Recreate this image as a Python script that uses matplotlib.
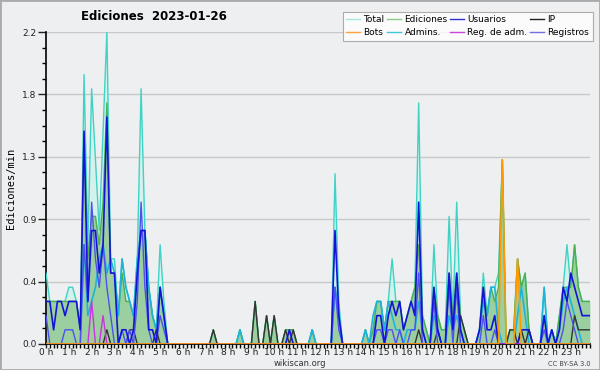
import numpy as np
import matplotlib
matplotlib.use("Agg")
import matplotlib.pyplot as plt
from matplotlib.lines import Line2D

# counts per 10-minute bin (edits / 10 min), 144 bins from 0:00 to 23:50
total = [5,3,3,3,3,3,4,4,3,1,19,7,
         18,13,8,15,22,6,6,2,6,4,3,2,
         6,18,8,4,2,1,7,3,0,0,0,0,
         0,0,0,0,0,0,0,0,1,0,0,0,
         0,0,0,1,0,0,0,3,0,0,2,0,
         2,0,0,1,1,1,0,0,0,0,1,0,
         0,0,0,0,12,3,0,0,0,0,0,0,
         1,0,1,3,3,1,3,6,3,3,1,2,
         3,4,17,2,1,0,7,2,1,1,9,2,
         10,2,1,0,0,0,1,5,2,4,4,5,
         13,0,1,1,6,4,5,1,0,0,0,4,
         0,1,0,2,4,7,4,7,4,3,3,3]
ediciones = [3,3,3,3,3,3,3,3,3,1,15,6,
             9,9,7,10,17,5,5,2,5,3,3,2,
             5,8,8,4,2,1,4,2,0,0,0,0,
             0,0,0,0,0,0,0,0,1,0,0,0,
             0,0,0,1,0,0,0,3,0,0,2,0,
             2,0,0,1,1,1,0,0,0,0,1,0,
             0,0,0,0,4,2,0,0,0,0,0,0,
             1,0,1,3,3,1,3,3,3,3,1,2,
             3,4,7,2,1,0,4,2,1,1,5,2,
             5,2,1,0,0,0,1,4,2,4,3,4,
             13,0,1,1,6,4,5,1,0,0,0,2,
             0,1,0,2,4,4,4,7,4,3,3,3]
usuarios = [3,3,1,3,3,2,3,3,3,1,15,3,
            8,8,5,7,16,5,5,0,1,1,0,1,
            5,8,8,1,1,0,4,2,0,0,0,0,
            0,0,0,0,0,0,0,0,0,0,0,0,
            0,0,0,0,0,0,0,0,0,0,0,0,
            0,0,0,0,1,0,0,0,0,0,0,0,
            0,0,0,0,8,2,0,0,0,0,0,0,
            0,0,0,2,2,0,2,3,2,3,1,2,
            3,2,10,1,0,0,4,1,0,0,5,1,
            5,1,0,0,0,0,1,4,1,1,2,0,
            0,0,0,0,0,1,1,1,0,0,0,2,
            0,1,0,1,4,3,5,4,3,2,2,2]
ip = [0,0,0,0,0,0,0,0,0,0,0,0,
      0,0,0,0,1,0,0,0,0,0,1,1,
      0,0,0,0,0,1,0,0,0,0,0,0,
      0,0,0,0,0,0,0,0,1,0,0,0,
      0,0,0,0,0,0,0,3,0,0,2,0,
      2,0,0,1,0,1,0,0,0,0,0,0,
      0,0,0,0,0,0,0,0,0,0,0,0,
      0,0,0,0,0,0,0,0,0,0,0,0,
      0,0,1,0,0,0,0,1,0,0,0,0,
      0,2,1,0,0,0,0,0,0,0,0,0,
      0,0,1,1,0,1,0,1,0,0,0,0,
      0,0,0,0,0,0,0,2,1,1,1,1]
bots = [0]*144
bots[120] = 13
bots[124] = 6
admins = [0,0,0,0,0,0,0,0,0,0,7,2,
          3,4,6,7,5,6,5,2,6,4,3,2,
          6,8,8,4,2,1,4,2,0,0,0,0,
          0,0,0,0,0,0,0,0,0,0,0,0,
          0,0,0,1,0,0,0,0,0,0,0,0,
          0,0,0,0,0,0,0,0,0,0,1,0,
          0,0,0,0,4,2,0,0,0,0,0,0,
          1,0,2,3,3,1,3,2,1,1,0,1,
          1,1,3,1,0,0,2,1,0,0,2,1,
          2,1,0,0,0,0,1,3,2,4,4,1,
          0,0,0,0,2,4,2,0,0,0,0,4,
          0,1,0,1,3,4,3,2,1,0,0,0]
reg_adm = [0]*144
reg_adm[12] = 3
reg_adm[15] = 2
registros = [2,0,0,0,0,1,1,1,0,0,7,3,
             10,6,4,7,4,2,0,0,1,0,1,0,
             3,10,4,1,0,0,2,1,0,0,0,0,
             0,0,0,0,0,0,0,0,0,0,0,0,
             0,0,0,0,0,0,0,0,0,0,0,0,
             0,0,0,0,0,0,0,0,0,0,0,0,
             0,0,0,0,4,1,0,0,0,0,0,0,
             0,0,0,1,1,0,1,1,0,1,0,0,
             1,1,5,0,0,0,3,0,0,0,4,0,
             4,0,0,0,0,0,0,2,0,0,1,0,
             0,0,0,0,0,0,0,0,0,0,0,1,
             0,0,0,0,1,3,2,1,0,0,0,0]

hours = np.arange(144) / 6.0
per_min = lambda s: np.array(s) / 10.0

bg = "#eeeff0"
fig = plt.figure(figsize=(6, 3.7), dpi=100, facecolor=bg)
ax = fig.add_axes([0.0767, 0.0703, 0.9063, 0.8432], facecolor=bg)

# filled areas
ax.fill_between(hours, 0, per_min(total), color="#d4f1ec", lw=0, zorder=1)
ax.fill_between(hours, 0, per_min(ediciones), color="#9ccf9f", lw=0, zorder=2)

# lines
ax.plot(hours, per_min(total), color="#3fd3c5", lw=1.0, zorder=3)
ax.plot(hours, per_min(ediciones), color="#4caf4c", lw=1.0, zorder=3)
ax.plot(hours, per_min(admins), color="#1fb3dc", lw=1.2, zorder=4)
ax.plot(hours, per_min(ip), color="#333333", lw=1.0, zorder=4)
ax.plot(hours, per_min(registros), color="#5050f0", lw=1.0, zorder=4)
ax.plot(hours, per_min(usuarios), color="#1414d8", lw=1.2, zorder=5)
ax.plot(hours, per_min(reg_adm), color="#cc33dd", lw=1.0, zorder=5)
ax.plot(hours, per_min(bots), color="#ff9a00", lw=1.2, zorder=6)

ax.set_xlim(0, 143 / 6.0)
ax.set_ylim(0, 2.2)

yt = np.linspace(0, 2.2, 6)
ax.set_yticks(yt)
ax.set_yticklabels(["%.1f" % v for v in yt])
ax.set_yticks(np.arange(0, 2.2001, 0.11), minor=True)
ax.set_xticks(np.arange(24))
ax.set_xticklabels(["%d h" % h for h in range(24)])
ax.set_xticks(np.arange(0, 143 / 6.0 + 0.001, 1 / 6.0), minor=True)

ax.tick_params(axis="both", which="major", labelsize=6.5, colors="#222222",
               direction="out", length=3, width=1, pad=0)
ax.tick_params(axis="both", which="minor", direction="out", length=3, width=1)
ax.tick_params(axis="y", which="major", length=6, pad=1)

ax.grid(axis="y", which="major", color="#c8c8c8", lw=1, zorder=0)
ax.set_axisbelow(True)
for s in ["top", "right"]:
    ax.spines[s].set_visible(False)
ax.spines["left"].set_linewidth(1.2)
ax.spines["bottom"].set_linewidth(1.2)

ax.set_ylabel("Ediciones/min", family="DejaVu Sans Mono", fontsize=7.5, labelpad=4)
fig.text(0.257, 0.955, "Ediciones  2023-01-26", fontsize=8.5, fontweight="bold",
         ha="center", va="center")
fig.text(0.5, 0.017, "wikiscan.org", fontsize=6, ha="center", va="center", color="#333333")
fig.text(0.985, 0.017, "CC BY-SA 3.0", fontsize=4.8, ha="right", va="center", color="#444444")

names = ["Total", "Bots", "Ediciones", "Admins.", "Usuarios", "Reg. de adm.", "IP", "Registros"]
cols = ["#a8e6de", "#ffa040", "#88cc88", "#40c8d8", "#3030d0", "#cc44dd", "#202020", "#7070e0"]
handles = [Line2D([], [], color=c, lw=1) for c in cols]
leg = fig.legend(handles, names, ncol=4, loc="upper right", bbox_to_anchor=(0.988, 0.968),
                 fontsize=6.5, frameon=True, fancybox=False, handlelength=1.5,
                 handletextpad=0.4, columnspacing=0.3, labelspacing=0.4,
                 borderpad=0.4, borderaxespad=0)
leg.get_frame().set_edgecolor("#999999")
leg.get_frame().set_linewidth(0.8)

fig.patches.append(plt.Rectangle((0, 0), 1, 1, transform=fig.transFigure,
                                 fill=False, edgecolor="#aaaaaa", lw=2))

fig.savefig("out.png", dpi=100, facecolor=bg)
